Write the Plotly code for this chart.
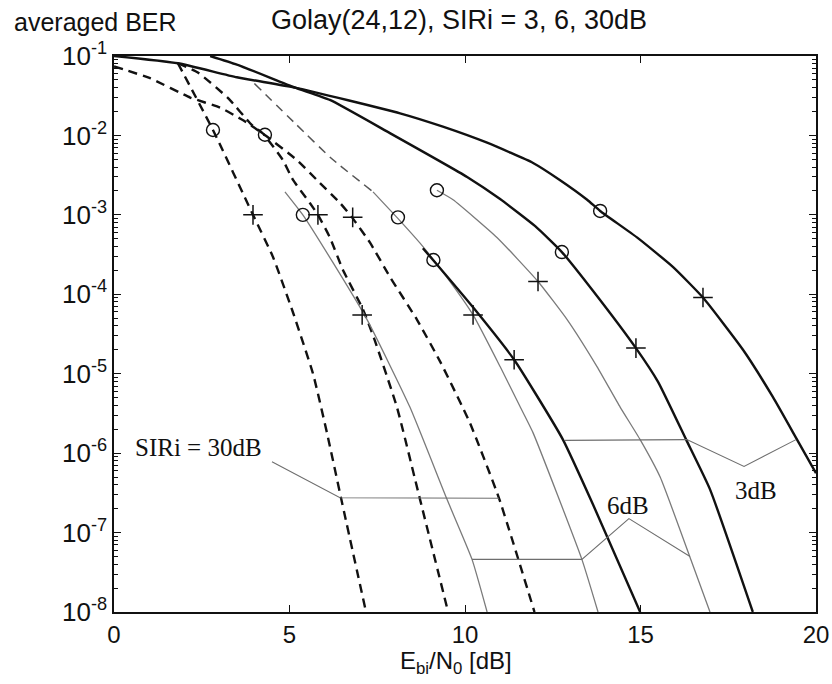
import plotly.graph_objects as go

# ---- BER curves (Eb/N0 in dB, averaged BER) ----
# SIRi = 30 dB (dashed)
sir30_a_x = [1.82, 2.82, 3.96, 4.53, 5.10, 5.67, 6.07, 6.47, 7.18]
sir30_a_y = [8.1e-2, 1.17e-2, 1.0e-3, 2.95e-4, 5.9e-5, 1.0e-5, 1.78e-6, 2.7e-7, 1.0e-8]
sir30_b_x = [1.82, 2.39, 3.25, 3.93, 4.25, 4.81, 5.10, 5.58, 5.81, 6.15, 6.52, 7.09, 7.42, 8.06, 8.72, 9.52]
sir30_b_y = [8.1e-2, 6.2e-2, 2.95e-2, 1.35e-2, 1.05e-2, 4.9e-3, 2.75e-3, 1.41e-3, 1.0e-3, 5.2e-4,
             2.04e-4, 6.5e-5, 2.7e-5, 3.8e-6, 2.6e-7, 1.0e-8]
sir30_c_x = [0.0, 1.03, 2.17, 3.02, 3.68, 4.25, 5.21, 5.78, 6.44, 6.78, 7.29, 7.86, 8.63, 9.30, 10.14,
             10.97, 11.98]
sir30_c_y = [7.4e-2, 5.25e-2, 3.0e-2, 2.24e-2, 1.55e-2, 1.05e-2, 4.9e-3, 2.75e-3, 1.41e-3, 9.3e-4,
             4.5e-4, 1.66e-4, 4.8e-5, 1.4e-5, 2.4e-6, 2.7e-7, 1.0e-8]

# SIRi = 6 dB (thin grey)
sir6_a_x = [4.87, 5.38, 6.24, 7.21, 8.43, 9.49, 10.20, 10.63]
sir6_a_y = [1.95e-3, 1.0e-3, 2.5e-4, 4.8e-5, 3.8e-6, 2.6e-7, 4.6e-8, 1.0e-8]
sir6_b_head_x = [4.0, 5.21, 6.18, 7.38]
sir6_b_head_y = [4.5e-2, 1.35e-2, 5.2e-3, 1.95e-3]
sir6_b_x = [7.38, 8.06, 8.72, 9.50, 10.23, 11.0, 11.55, 11.94, 13.33, 13.79]
sir6_b_y = [1.95e-3, 9.3e-4, 4.4e-4, 1.6e-4, 5.5e-5, 1.23e-5, 4.0e-6, 1.8e-6, 4.6e-8, 1.0e-8]
sir6_c_x = [9.20, 9.66, 10.91, 12.08, 12.91, 13.76, 14.42, 14.99, 15.56, 16.41, 16.98]
sir6_c_y = [2.04e-3, 1.55e-3, 5.2e-4, 1.45e-4, 4.8e-5, 1.23e-5, 3.8e-6, 1.48e-6, 5.0e-7, 4.9e-8, 1.0e-8]

# SIRi = 3 dB (thick solid)
sir3_a_x = [8.80, 9.09, 10.20, 11.40, 11.99, 12.79, 13.65, 14.99]
sir3_a_y = [3.8e-4, 2.7e-4, 7.1e-5, 1.5e-5, 5.8e-6, 1.48e-6, 2.24e-7, 1.0e-8]
sir3_b_x = [2.74, 3.50, 5.16, 6.15, 7.86, 10.06, 11.0, 12.0, 12.76, 13.65, 14.87, 15.5, 16.3, 16.98, 18.2]
sir3_b_y = [1.0e-1, 7.8e-2, 4.0e-2, 2.8e-2, 1.07e-2, 3.0e-3, 1.58e-3, 7.2e-4, 3.4e-4, 1.1e-4,
            2.1e-5, 7.9e-6, 1.48e-6, 3.5e-7, 1.0e-8]
sir3_c_x = [0.0, 1.82, 3.5, 5.16, 8.15, 9.37, 10.63, 11.94, 12.70, 13.48, 13.85, 14.90, 15.93, 16.78,
            17.92, 18.77, 19.46, 20.0]
sir3_c_y = [1.0e-1, 8.1e-2, 5.4e-2, 4.0e-2, 1.9e-2, 1.29e-2, 8.1e-3, 4.5e-3, 2.75e-3, 1.55e-3,
            1.12e-3, 5.2e-4, 2.2e-4, 9.1e-5, 2.0e-5, 5.1e-6, 1.48e-6, 5.6e-7]

# simulation points
sim_circle_x = [2.82, 4.30, 5.38, 8.09, 9.20, 9.10, 12.76, 13.85]
sim_circle_y = [1.17e-2, 1.02e-2, 1.0e-3, 9.3e-4, 2.04e-3, 2.7e-4, 3.4e-4, 1.12e-3]
sim_plus_x = [3.96, 5.81, 6.80, 7.07, 10.23, 11.40, 12.08, 14.87, 16.78]
sim_plus_y = [1.0e-3, 1.0e-3, 9.3e-4, 5.5e-5, 5.5e-5, 1.5e-5, 1.45e-4, 2.1e-5, 9.1e-5]

# leader lines of the group labels
lead30_x = [4.50, 6.44, 10.97]
lead30_y = [7.8e-7, 2.75e-7, 2.7e-7]
lead6_x = [10.20, 13.33, 14.67, 16.41]
lead6_y = [4.6e-8, 4.6e-8, 1.5e-7, 5.0e-8]
lead3_x = [12.85, 16.32, 17.95, 19.43]
lead3_y = [1.45e-6, 1.48e-6, 6.8e-7, 1.48e-6]

x_ticks = [0, 5, 10, 15, 20]
y_exps = [-8, -7, -6, -5, -4, -3, -2, -1]

BLACK = "#111111"
GREY = "#7a7a7a"
THICK = 2.4
DASH = "9px,6px"

fig = go.Figure()


def curve(x, y, color, width, dash="solid"):
    fig.add_trace(go.Scatter(
        x=x, y=y, mode="lines",
        line=dict(color=color, width=width, dash=dash, shape="spline", smoothing=0.45),
        hoverinfo="skip"))


curve(sir30_a_x, sir30_a_y, BLACK, THICK, DASH)
curve(sir30_b_x, sir30_b_y, BLACK, THICK, DASH)
curve(sir30_c_x, sir30_c_y, BLACK, THICK, DASH)
curve(sir6_b_head_x, sir6_b_head_y, "#555555", 1.5, DASH)
curve(sir6_a_x, sir6_a_y, GREY, 1.3)
curve(sir6_b_x, sir6_b_y, GREY, 1.3)
curve(sir6_c_x, sir6_c_y, GREY, 1.3)
curve(sir3_a_x, sir3_a_y, BLACK, THICK)
curve(sir3_b_x, sir3_b_y, BLACK, THICK)
curve(sir3_c_x, sir3_c_y, BLACK, THICK)

for lx, ly in ((lead30_x, lead30_y), (lead6_x, lead6_y), (lead3_x, lead3_y)):
    fig.add_trace(go.Scatter(x=lx, y=ly, mode="lines",
                             line=dict(color="#6e6e6e", width=1.1), hoverinfo="skip"))

fig.add_trace(go.Scatter(
    x=sim_circle_x, y=sim_circle_y, mode="markers",
    marker=dict(symbol="circle-open", size=13, color=BLACK, line=dict(width=1.4, color=BLACK)),
    hoverinfo="skip"))
fig.add_trace(go.Scatter(
    x=sim_plus_x, y=sim_plus_y, mode="markers",
    marker=dict(symbol="cross-thin", size=14, color=BLACK, line=dict(width=1.5, color=BLACK)),
    hoverinfo="skip"))

sans = "Liberation Sans, Arial, sans-serif"
serif = "Liberation Serif, Times New Roman, serif"

minor_vals = [m * 10.0 ** e for e in y_exps[:-1] for m in range(2, 10)]

fig.update_layout(
    width=832, height=684,
    margin=dict(l=114, r=16, t=56, b=72, autoexpand=False),
    paper_bgcolor="white", plot_bgcolor="white",
    showlegend=False,
    xaxis=dict(
        range=[0, 20], tickvals=x_ticks, ticktext=[str(v) for v in x_ticks],
        ticks="inside", ticklen=7, tickwidth=1.2, tickcolor=BLACK,
        showline=True, linecolor=BLACK, linewidth=1.5, mirror="ticks",
        showgrid=False, zeroline=False, automargin=False,
        tickfont=dict(family=sans, size=24, color=BLACK),
    ),
    yaxis=dict(
        type="log", range=[-8, -1],
        tickvals=[10.0 ** e for e in y_exps],
        ticktext=[f"10<sup>{e}</sup>" for e in y_exps],
        ticks="inside", ticklen=7, tickwidth=1.2, tickcolor=BLACK,
        minor=dict(ticks="inside", ticklen=4, tickwidth=1, tickcolor=BLACK,
                   tickvals=minor_vals, showgrid=False),
        showline=True, linecolor=BLACK, linewidth=1.5, mirror="ticks",
        showgrid=False, zeroline=False, automargin=False,
        tickfont=dict(family=sans, size=26, color=BLACK),
    ),
)

fig.add_annotation(text="Golay(24,12), SIRi = 3, 6, 30dB", xref="paper", yref="paper",
                   x=0.4915, y=1.0647, xanchor="center", yanchor="middle", showarrow=False,
                   font=dict(family=sans, size=27, color=BLACK))
fig.add_annotation(text="averaged BER", xref="paper", yref="paper",
                   x=-0.1453, y=1.0612, xanchor="left", yanchor="middle", showarrow=False,
                   font=dict(family=sans, size=25, color=BLACK))
fig.add_annotation(text="E<sub>bi</sub>/N<sub>0</sub> [dB]", xref="paper", yref="paper",
                   x=0.487, y=-0.0917, xanchor="center", yanchor="middle", showarrow=False,
                   font=dict(family=sans, size=24, color=BLACK))
fig.add_annotation(text="SIRi = 30dB", xref="paper", yref="paper",
                   x=0.1197, y=0.295, xanchor="center", yanchor="middle", showarrow=False,
                   font=dict(family=serif, size=25, color=BLACK))
fig.add_annotation(text="6dB", xref="paper", yref="paper",
                   x=0.732, y=0.1924, xanchor="center", yanchor="middle", showarrow=False,
                   font=dict(family=serif, size=25, color=BLACK))
fig.add_annotation(text="3dB", xref="paper", yref="paper",
                   x=0.9145, y=0.2194, xanchor="center", yanchor="middle", showarrow=False,
                   font=dict(family=serif, size=25, color=BLACK))

fig.write_html("out.html")
